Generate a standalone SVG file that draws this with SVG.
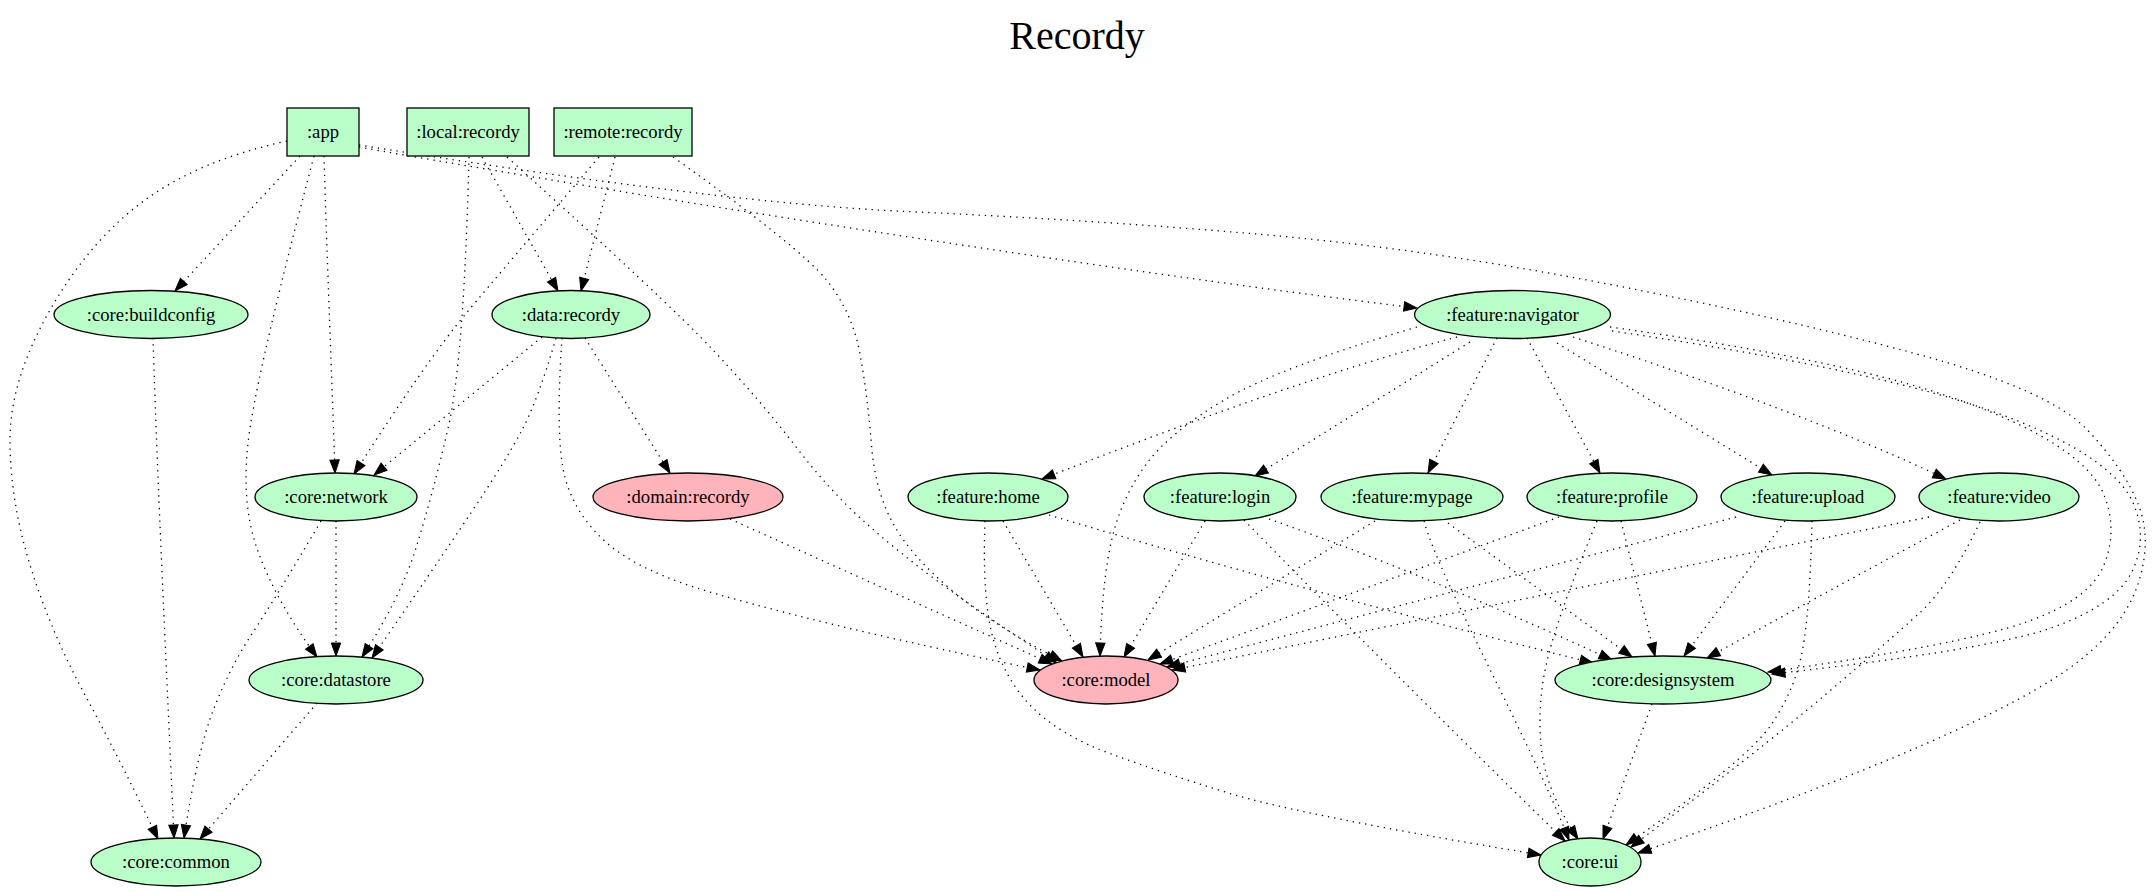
<svg xmlns="http://www.w3.org/2000/svg" width="2154" height="892" viewBox="0 0 2154 892">
<style>
.e{fill:none;stroke:#000;stroke-width:1.3;stroke-dasharray:1.3 5;marker-end:url(#ah)}
.g{fill:#baffc9;stroke:#000;stroke-width:1.3}
.p{fill:#ffb3ba;stroke:#000;stroke-width:1.3}
text{font-family:"Liberation Serif","Times New Roman",serif;font-size:18.67px;text-anchor:middle;fill:#000}
.t{font-size:40px}
</style>
<defs>
<marker id="ah" markerWidth="14" markerHeight="10" refX="13" refY="4.7" orient="auto" markerUnits="userSpaceOnUse" overflow="visible">
<path d="M0,0 L13,4.7 L0,9.4 z" fill="#000" stroke="#000" stroke-width="1"/>
</marker>
</defs>
<rect width="2154" height="892" fill="#fff"/>
<text class="t" x="1077" y="49">Recordy</text>
<g id="edges">
<path class="e" d="M300,156 L175,291"/>
<path class="e" d="M324,156 C327,260 332,380 335,473"/>
<path class="e" d="M314,156 Q262,353 250.5,425 Q239,497 257,548.5 Q275,600 317,657"/>
<path class="e" d="M287,141 Q200,160 145,200 Q90,240 50,310 Q10,380 10,440 Q10,500 30,565 Q50,630 85,695 Q120,760 158,839"/>
<path class="e" d="M359,147 C600,190 1100,270 1417,308"/>
<path class="e" d="M359,145 Q720,203 906.5,211.5 Q1093,220 1256.5,234 Q1420,248 1600,282.5 Q1780,317 1915,353.5 Q2050,390 2087.5,430 Q2125,470 2138.5,505 Q2152,540 2138.5,582.5 Q2125,625 2079,661 Q2033,697 1923,745 Q1813,793 1638,853"/>
<path class="e" d="M469,157 Q464,360 448,428.5 Q432,497 416,548 Q400,599 362,657"/>
<path class="e" d="M482,157 L558,291"/>
<path class="e" d="M507,157 Q666,300 713,350 Q760,400 794.5,445 Q829,490 863,520.5 Q897,551 936,580 Q975,609 1057,663"/>
<path class="e" d="M615,157 L581,291"/>
<path class="e" d="M599,157 Q505,267 466,313.5 Q427,360 354,474"/>
<path class="e" d="M673,157 Q800,247 826.5,280 Q853,313 860.5,356.5 Q868,400 871.5,445 Q875,490 892.5,522.5 Q910,555 952,590.5 Q994,626 1062,661"/>
<path class="e" d="M542,337 L374,475"/>
<path class="e" d="M556,338 Q538,400 521.5,431 Q505,462 470.5,513.5 Q436,565 372,658"/>
<path class="e" d="M562,338 Q555,440 565,477.5 Q575,515 607.5,543.5 Q640,572 715,593.5 Q790,615 882.5,636 Q975,657 1040,670"/>
<path class="e" d="M585,338 L670,473"/>
<path class="e" d="M730,519 L1052,664"/>
<path class="e" d="M1417,327 Q1280,367 1225,399.5 Q1170,432 1146,464.5 Q1122,497 1112,538.5 Q1102,580 1100,656"/>
<path class="e" d="M1457,337 C1330,370 1180,425 1042,479"/>
<path class="e" d="M1470,342 L1255,476"/>
<path class="e" d="M1497,338 L1428,473"/>
<path class="e" d="M1527,338 L1600,473"/>
<path class="e" d="M1557,343 L1772,475"/>
<path class="e" d="M1573,337 Q1800,410 1946,479"/>
<path class="e" d="M1610,327 Q1760,348 1860,371.5 Q1960,395 2025,427.5 Q2090,460 2104,495 Q2118,530 2104,565 Q2090,600 2025,622.5 Q1960,645 1768,672"/>
<path class="e" d="M1612,331 Q1770,354 1880,379.5 Q1990,405 2055,437.5 Q2120,470 2134,505 Q2148,540 2131.5,572.5 Q2115,605 2052.5,627.5 Q1990,650 1772,674"/>
<path class="e" d="M1003,521 L1083,657"/>
<path class="e" d="M1049,515 Q1300,590 1593,663"/>
<path class="e" d="M985,521 Q982,600 993.5,640 Q1005,680 1032.5,707.5 Q1060,735 1110,753.5 Q1160,772 1230,793.5 Q1300,815 1541,855"/>
<path class="e" d="M1205,521 L1124,657"/>
<path class="e" d="M1269,519 Q1420,572 1612,660"/>
<path class="e" d="M1244,520 Q1400,680 1565,841"/>
<path class="e" d="M1375,521 L1148,660"/>
<path class="e" d="M1448,523 L1632,657"/>
<path class="e" d="M1424,521 C1440,580 1530,740 1569,840"/>
<path class="e" d="M1559,517 L1160,664"/>
<path class="e" d="M1621,521 L1655,656"/>
<path class="e" d="M1597,521 Q1560,610 1548.5,655 Q1537,700 1541,745 Q1545,790 1578,839"/>
<path class="e" d="M1736,517 L1167,667"/>
<path class="e" d="M1785,521 L1684,656"/>
<path class="e" d="M1812,521 Q1810,610 1802.5,650 Q1795,690 1771,725 Q1747,760 1626,845"/>
<path class="e" d="M1929,517 L1172,670"/>
<path class="e" d="M1960,520 Q1830,590 1707,658"/>
<path class="e" d="M1980,522 Q1950,585 1920,612.5 Q1890,640 1825,695 Q1760,750 1631,847"/>
<path class="e" d="M1652,704 L1603,839"/>
<path class="e" d="M153,338 C158,500 168,700 174,838"/>
<path class="e" d="M321,521 Q275,599 252.5,633 Q230,667 213.5,709.5 Q197,752 184,838"/>
<path class="e" d="M336,521 L336,656"/>
<path class="e" d="M317,703 L200,839"/>
</g>
<g id="n-app"><rect class="g" x="287" y="108" width="72" height="48"/><text x="323" y="138">:app</text></g>
<g id="n-local-recordy"><rect class="g" x="407" y="108" width="122" height="48"/><text x="468" y="138">:local:recordy</text></g>
<g id="n-remote-recordy"><rect class="g" x="554" y="108" width="138" height="48"/><text x="623" y="138">:remote:recordy</text></g>
<g id="n-core-buildconfig"><ellipse class="g" cx="151" cy="314.5" rx="97" ry="24"/><text x="151" y="320.5">:core:buildconfig</text></g>
<g id="n-data-recordy"><ellipse class="g" cx="571" cy="314.5" rx="79" ry="24"/><text x="571" y="320.5">:data:recordy</text></g>
<g id="n-feature-navigator"><ellipse class="g" cx="1512.5" cy="314.5" rx="98" ry="24"/><text x="1512.5" y="320.5">:feature:navigator</text></g>
<g id="n-core-network"><ellipse class="g" cx="336" cy="497" rx="81" ry="24"/><text x="336" y="503">:core:network</text></g>
<g id="n-domain-recordy"><ellipse class="p" cx="688" cy="497" rx="95" ry="24"/><text x="688" y="503">:domain:recordy</text></g>
<g id="n-feature-home"><ellipse class="g" cx="988" cy="497" rx="80" ry="24"/><text x="988" y="503">:feature:home</text></g>
<g id="n-feature-login"><ellipse class="g" cx="1220" cy="497" rx="76" ry="24"/><text x="1220" y="503">:feature:login</text></g>
<g id="n-feature-mypage"><ellipse class="g" cx="1412" cy="497" rx="91" ry="24"/><text x="1412" y="503">:feature:mypage</text></g>
<g id="n-feature-profile"><ellipse class="g" cx="1612" cy="497" rx="85" ry="24"/><text x="1612" y="503">:feature:profile</text></g>
<g id="n-feature-upload"><ellipse class="g" cx="1808" cy="497" rx="87" ry="24"/><text x="1808" y="503">:feature:upload</text></g>
<g id="n-feature-video"><ellipse class="g" cx="1999" cy="497" rx="80" ry="24"/><text x="1999" y="503">:feature:video</text></g>
<g id="n-core-datastore"><ellipse class="g" cx="336" cy="680" rx="87" ry="24"/><text x="336" y="686">:core:datastore</text></g>
<g id="n-core-model"><ellipse class="p" cx="1106" cy="680" rx="72" ry="24"/><text x="1106" y="686">:core:model</text></g>
<g id="n-core-designsystem"><ellipse class="g" cx="1663" cy="680" rx="108" ry="24"/><text x="1663" y="686">:core:designsystem</text></g>
<g id="n-core-common"><ellipse class="g" cx="176" cy="862" rx="85" ry="24"/><text x="176" y="868">:core:common</text></g>
<g id="n-core-ui"><ellipse class="g" cx="1590" cy="862" rx="51" ry="24"/><text x="1590" y="868">:core:ui</text></g>
</svg>
